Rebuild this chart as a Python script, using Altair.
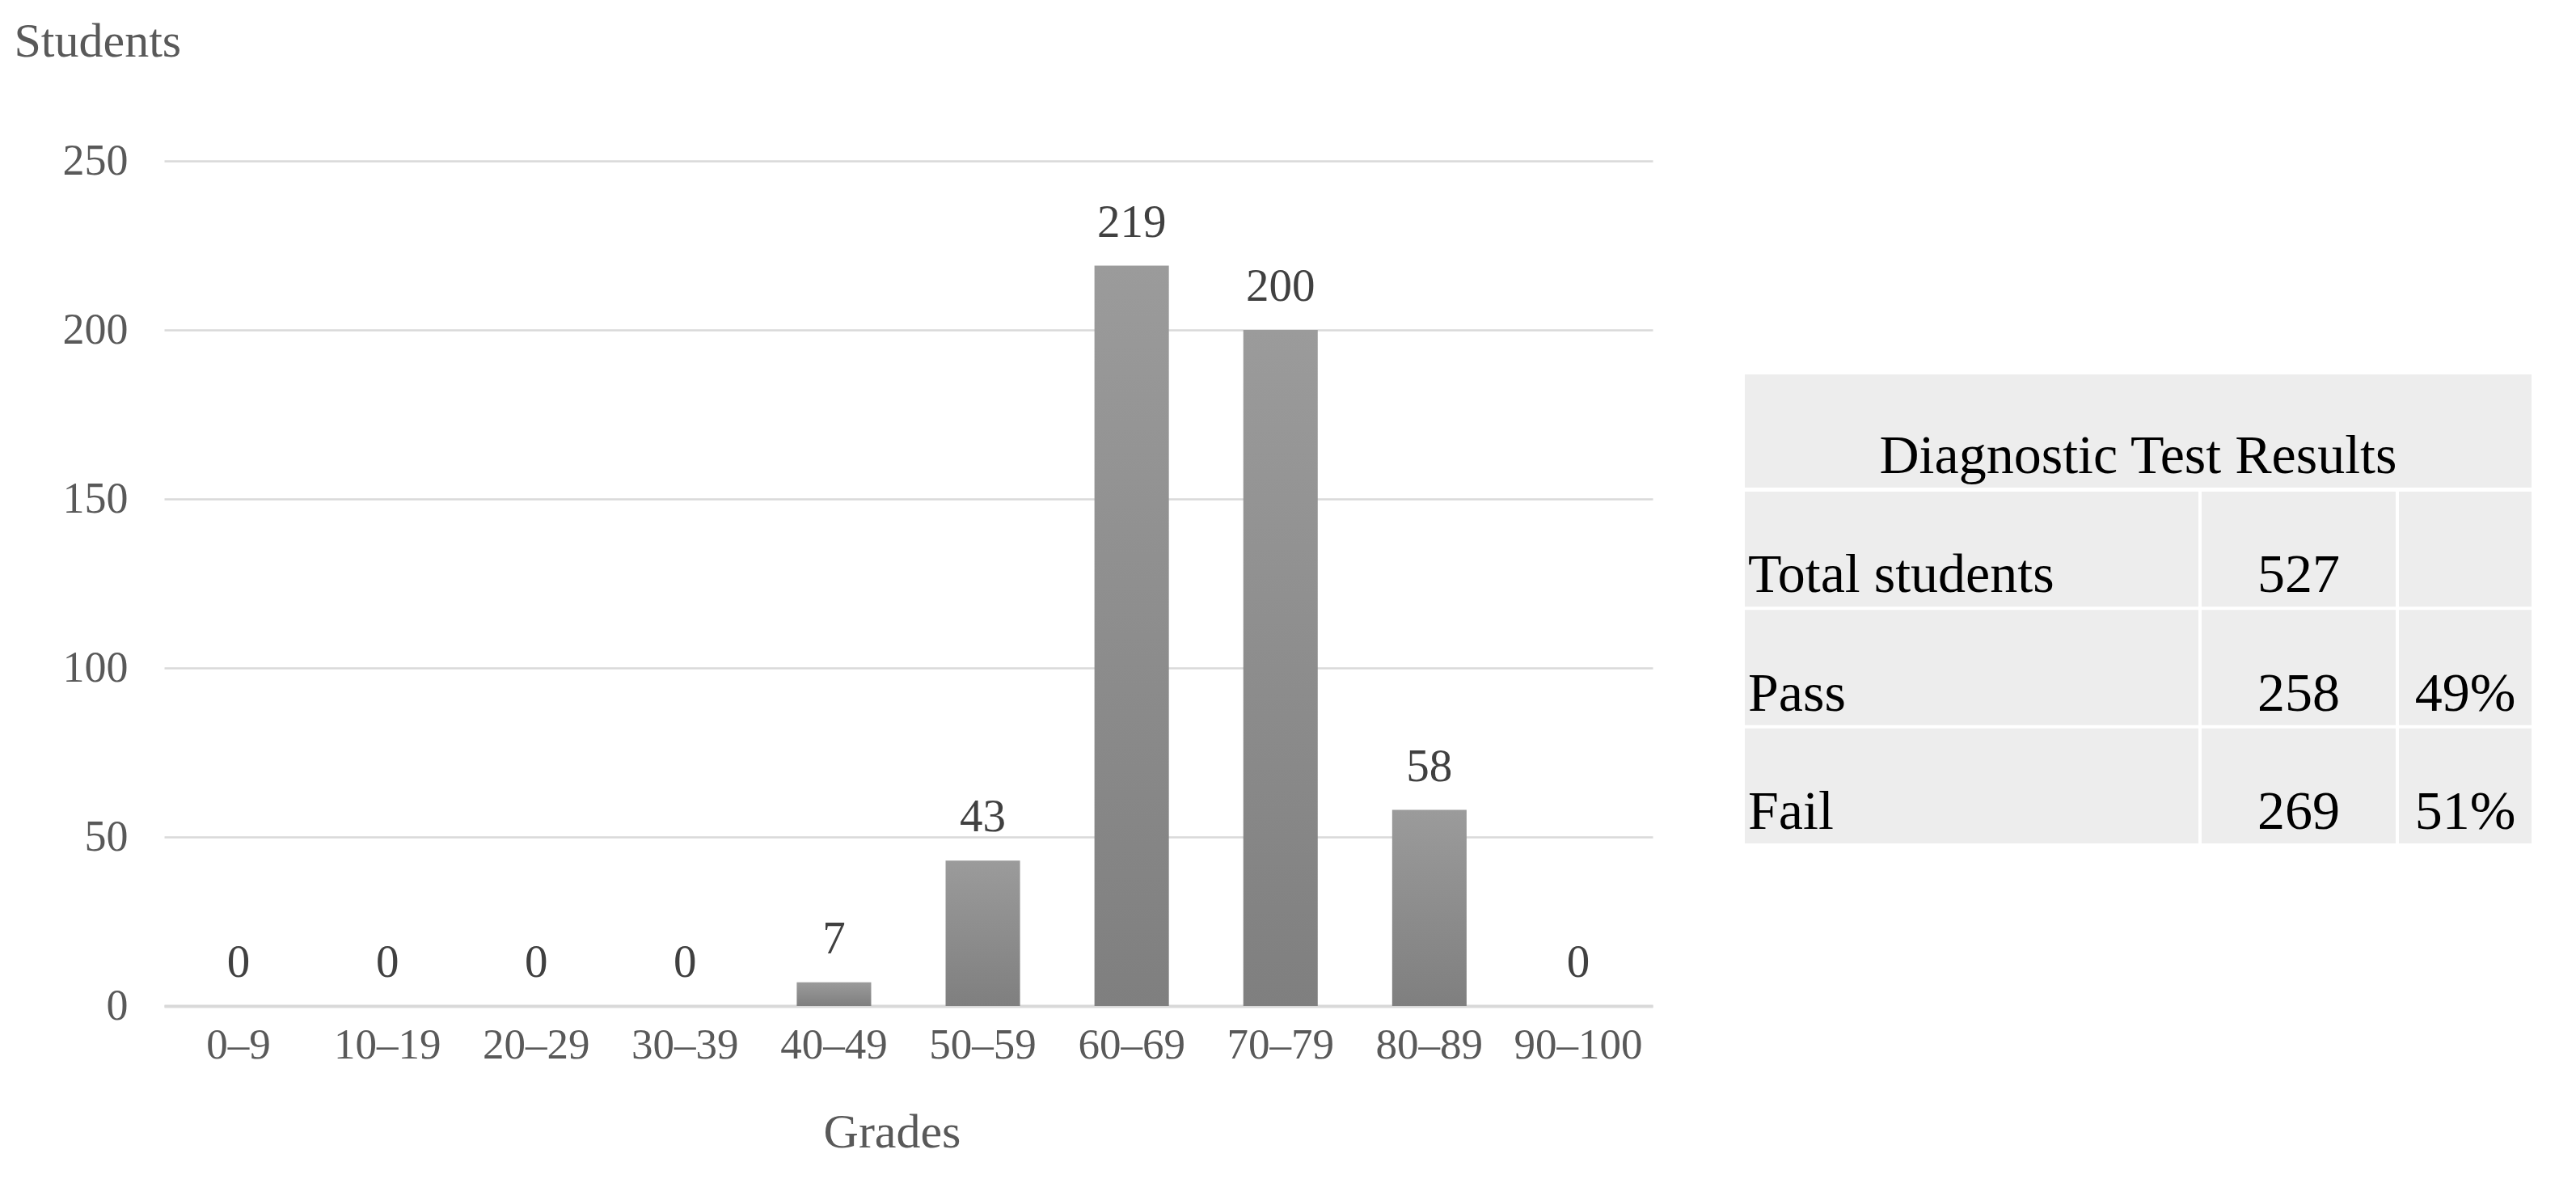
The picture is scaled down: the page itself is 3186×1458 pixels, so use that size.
import altair as alt
import pandas as pd

# ---- data ----
grades = ["0–9", "10–19", "20–29", "30–39", "40–49",
          "50–59", "60–69", "70–79", "80–89", "90–100"]
students = [0, 0, 0, 0, 7, 43, 219, 200, 58, 0]
y_ticks = [0, 50, 100, 150, 200, 250]

table_title = "Diagnostic Test Results"
row_labels = ["Total students", "Pass", "Fail"]
row_counts = ["527", "258", "269"]
row_pcts = ["", "49%", "51%"]

# ---- layout / style ----
FONT = "Liberation Serif"
PLOT_W, PLOT_H = 1841, 1045
GRAY_TXT = "#595959"
GRID = "#d9d9d9"
CELL = "#ededed"
TABLE_FS = 68
COL_W = [561, 240, 164]
HEADER_H = 140
ROWS_H = 435
GAP = 4
SPACER_H = 260

bars_df = pd.DataFrame({"grade": grades, "students": students})

x = alt.X(
    "grade:N", sort=grades, title="Grades",
    scale=alt.Scale(paddingInner=0.5, paddingOuter=0.25),
    axis=alt.Axis(
        labelAngle=0, labelFont=FONT, labelFontSize=53, labelColor=GRAY_TXT,
        labelPadding=22, ticks=False, domainColor=GRID, domainWidth=4,
        titleFont=FONT, titleFontSize=60, titleColor=GRAY_TXT,
        titleFontWeight="normal", titlePadding=52, titleX=900,
    ),
)
y = alt.Y(
    "students:Q", title="Students", scale=alt.Scale(domain=[0, 250]),
    axis=alt.Axis(
        values=y_ticks, labelFont=FONT, labelFontSize=54, labelColor=GRAY_TXT,
        labelPadding=45, ticks=False, domain=False, gridColor=GRID, gridWidth=2.5,
        titleFont=FONT, titleFontSize=60, titleColor=GRAY_TXT,
        titleFontWeight="normal", titleAngle=0, titleAlign="left",
        titleBaseline="middle", titleX=-186, titleY=-148,
    ),
)

bars = alt.Chart(bars_df).mark_bar(
    color=alt.Gradient(
        gradient="linear",
        stops=[alt.GradientStop(color="#9b9b9b", offset=0),
               alt.GradientStop(color="#7f7f7f", offset=1)],
        x1=0, x2=0, y1=0, y2=1,
    )
).encode(x=x, y=y)

labels = alt.Chart(bars_df).mark_text(
    font=FONT, fontSize=57, color="#404040", baseline="alphabetic", dy=-36
).encode(x=x, y=y, text="students:Q")

bar_chart = alt.layer(bars, labels).properties(width=PLOT_W, height=PLOT_H)

# ---- table ----
rows_df = pd.DataFrame({"label": row_labels, "count": row_counts, "pct": row_pcts})

header = alt.Chart(pd.DataFrame({"t": [table_title]})).mark_text(
    font=FONT, fontSize=TABLE_FS, color="#000000", dy=32
).encode(text="t:N").properties(
    width=sum(COL_W) + 2 * GAP, height=HEADER_H,
    view=alt.ViewBackground(fill=CELL, strokeWidth=0),
)

step = (ROWS_H + GAP) / 3.0
pin = GAP / step


def column(field, width, left=False):
    yenc = alt.Y("label:N", sort=row_labels, axis=None,
                 scale=alt.Scale(paddingInner=pin, paddingOuter=0))
    cells = alt.Chart(rows_df).mark_rect(color=CELL).encode(y=yenc)
    if left:
        txt = alt.Chart(rows_df).mark_text(
            font=FONT, fontSize=TABLE_FS, color="#000000", align="left", dy=33
        ).encode(y=yenc, x=alt.value(4), text=f"{field}:N")
    else:
        txt = alt.Chart(rows_df).mark_text(
            font=FONT, fontSize=TABLE_FS, color="#000000", align="center", dy=33
        ).encode(y=yenc, text=f"{field}:N")
    return alt.layer(cells, txt).properties(width=width, height=ROWS_H)


cols = alt.hconcat(
    column("label", COL_W[0], left=True),
    column("count", COL_W[1]),
    column("pct", COL_W[2]),
    spacing=GAP,
)

spacer = alt.Chart(pd.DataFrame({"s": [0]})).mark_point(opacity=0).properties(
    width=sum(COL_W) + 2 * GAP, height=SPACER_H
)

table_block = alt.vconcat(spacer, header, cols, spacing=GAP)

chart = alt.hconcat(bar_chart, table_block, spacing=114).properties(
    padding={"left": 9, "top": 13, "right": 8, "bottom": 8}
).configure_view(strokeWidth=0)

chart.save("out.html", embed_options={"renderer": "svg", "actions": False})
